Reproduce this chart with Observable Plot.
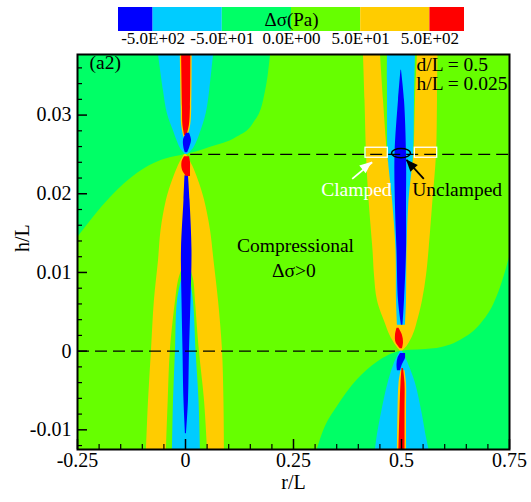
<!DOCTYPE html>
<html><head><meta charset="utf-8">
<script src="https://cdn.jsdelivr.net/npm/d3@7"></script>
<script src="https://cdn.jsdelivr.net/npm/@observablehq/plot@0.6"></script>
<style>
body{margin:0;background:#fff;}
#chart{width:531px;}
#chart svg{display:block;}
#chart text{font-family:"Liberation Serif","Times New Roman","DejaVu Serif",serif !important;}
</style></head><body><div id="chart"></div>
<script>
// ---------- colour levels (legend) ----------
const levelColors = ["#0000ff", "#00ccff", "#00ff66", "#66ff00", "#ffcc00", "#ff0000"];
const levelEdges = [0, 0.5, 1.5, 2.5, 3.5, 4.5, 5];
const levelLabels = ["-5.0E+02", "-5.0E+01", "0.0E+00", "5.0E+01", "5.0E+02"];
const legendTitle = "Δσ(Pa)";
const [BLUE, CYAN, SPRING, LGREEN, ORANGE, RED] = levelColors;

// ---------- axes ----------
const xDomain = [-0.25, 0.75];
const yDomain = [-0.0125, 0.0377];
const xMajor = [-0.25, 0, 0.25, 0.5, 0.75];
const xMajorLabels = ["-0.25", "0", "0.25", "0.5", "0.75"];
const xMinor = [-0.2, -0.15, -0.1, -0.05, 0.05, 0.1, 0.15, 0.2, 0.3, 0.35, 0.4, 0.45, 0.55, 0.6, 0.65, 0.7];
const yMajor = [-0.01, 0, 0.01, 0.02, 0.03];
const yMajorLabels = ["-0.01", "0", "0.01", "0.02", "0.03"];
const yMinor = [-0.012, -0.008, -0.006, -0.004, -0.002, 0.002, 0.004, 0.006, 0.008, 0.012, 0.014, 0.016, 0.018,
                0.022, 0.024, 0.026, 0.028, 0.032, 0.034, 0.036];
const xTitle = "r/L", yTitle = "h/L";

// ---------- contour regions ----------
// boundary between Δσ<0 (upper-left) and Δσ>0 background: [r, h]
const upperLeftBoundary = [[-0.25, 0.0144], [-0.174, 0.0195], [-0.111, 0.0226], [-0.058, 0.0242], [-0.025, 0.0247],
  [0, 0.0250], [0.025, 0.0253], [0.058, 0.0259], [0.12, 0.0272], [0.157, 0.0289], [0.181, 0.0319], [0.192, 0.0353], [0.197, 0.0377]];
const lowerRightBoundary = [[0.305, -0.0125], [0.320, -0.0101], [0.351, -0.0071], [0.397, -0.0037], [0.444, -0.0014],
  [0.5, 0.0], [0.575, 0.0003], [0.637, 0.0014], [0.683, 0.0034], [0.714, 0.0060], [0.737, 0.0094], [0.75, 0.0119]];

// bands: [h, r_left, r_right]
const leftUpperCyan = [[0.0250, 0, 0.005], [0.0258, -0.012, 0.019], [0.0268, -0.020, 0.028], [0.0280, -0.028, 0.036],
  [0.0302, -0.042, 0.048], [0.0331, -0.051, 0.056], [0.0377, -0.0625, 0.065]];
const leftUpperLining = [[0.0272, -0.004, 0.005], [0.0287, -0.009, 0.012], [0.0310, -0.010, 0.0145], [0.0377, -0.012, 0.0155]];
const leftUpperRed = [[0.0274, -0.002, 0.0035], [0.0287, -0.006, 0.009], [0.0310, -0.007, 0.0115], [0.0377, -0.009, 0.0125]];
const leftUpperBlue = [[0.0252, 0, 0.0046], [0.0258, -0.0035, 0.0093], [0.0268, -0.0046, 0.0139], [0.0277, 0.0023, 0.0093]];
const leftLowerRed = [[0.0247, -0.0023, 0.0093], [0.0240, -0.0081, 0.0116], [0.0230, -0.0069, 0.0116], [0.0222, 0.0023, 0.0116]];
const leftLowerOrange = [[0.0250, -0.0023, 0.0023], [0.0236, -0.0162, 0.0162], [0.0217, -0.030, 0.030], [0.0192, -0.044, 0.044],
  [0.0153, -0.0567, 0.058], [0.0115, -0.0625, 0.066], [0.0064, -0.072, 0.0764], [0.0001, -0.0787, 0.0856],
  [-0.0063, -0.0856, 0.089], [-0.0125, -0.0903, 0.0903]];
const leftLowerGreen = [[0.0109, -0.0046, 0.0093], [0.0090, -0.016, 0.019], [0.0064, -0.023, 0.023], [0.0001, -0.035, 0.032],
  [-0.0063, -0.040, 0.044], [-0.0125, -0.044, 0.051]];
const leftLowerCyan = [[0.0100, -0.0046, 0.0093], [0.0064, -0.0185, 0.0185], [0.0001, -0.0231, 0.0243],
  [-0.0063, -0.0278, 0.0313], [-0.0125, -0.0301, 0.0347]];
const leftLowerBlue = [[0.0223, -0.0012, 0.0069], [0.0192, -0.0035, 0.0104], [0.0128, -0.0093, 0.015], [0.0064, -0.0081, 0.0127],
  [0.0001, -0.0058, 0.0093], [-0.0063, -0.0035, 0.0069], [-0.0105, 0.0, 0.0023]];

const rightUpperOrange = [[0.0000, 0.4977, 0.5023], [0.0007, 0.4873, 0.5139], [0.0020, 0.4734, 0.5266], [0.0033, 0.4641, 0.5347],
  [0.0064, 0.4444, 0.5486], [0.0096, 0.4375, 0.5579], [0.0128, 0.434, 0.5637], [0.0192, 0.4248, 0.5729],
  [0.0250, 0.419, 0.581], [0.0319, 0.4155, 0.5833], [0.0377, 0.412, 0.5845]];
const rightUpperGreen = [[0.0240, 0.4700, 0.5270], [0.0250, 0.4676, 0.5290], [0.0319, 0.4583, 0.5324], [0.0377, 0.4514, 0.5370]];
const rightUpperCyan = [[0.0033, 0.4907, 0.5093], [0.0064, 0.4884, 0.5116], [0.0128, 0.4873, 0.5127], [0.0192, 0.4792, 0.5174],
  [0.0250, 0.4688, 0.5278], [0.0319, 0.4676, 0.5301], [0.0377, 0.4676, 0.5324]];
const rightUpperBlue = [[0.0357, 0.4988, 0.5], [0.0319, 0.4931, 0.5069], [0.0250, 0.485, 0.5116], [0.0183, 0.4861, 0.5116],
  [0.0128, 0.4896, 0.5116], [0.0064, 0.4931, 0.5069], [0.0033, 0.5, 0.5035]];
const rightUpperRed = [[0.0029, 0.4896, 0.4942], [0.0020, 0.4861, 0.5023], [0.0011, 0.4873, 0.5046], [0.0003, 0.4977, 0.5023]];
const rightLowerCyan = [[0.0, 0.4977, 0.5023], [-0.0012, 0.4861, 0.5127], [-0.0041, 0.4688, 0.5324], [-0.0075, 0.4549, 0.5463],
  [-0.0110, 0.4433, 0.5579], [-0.0125, 0.4398, 0.5637]];
const rightLowerBlue = [[-0.0003, 0.4977, 0.5093], [-0.0009, 0.4919, 0.5093], [-0.0017, 0.4896, 0.5023], [-0.0025, 0.4907, 0.4977]];
const rightLowerLining = [[-0.0025, 0.4988, 0.5081], [-0.0041, 0.4942, 0.5116], [-0.0075, 0.4919, 0.5116], [-0.0125, 0.4907, 0.5116]];
const rightLowerRed = [[-0.0022, 0.5012, 0.5046], [-0.0041, 0.4988, 0.5081], [-0.0075, 0.4965, 0.5081], [-0.0125, 0.4942, 0.5081]];

// ---------- annotations ----------
const dashH = [0, 0.025];
const dashFrom = [-0.25, 0.012];
const dashTo = [0.497, 0.75];
const clampR1 = [0.4167, 0.5308], clampR2 = [0.4683, 0.5826];
const clampH1 = 0.02458, clampH2 = 0.02585;
const ellipseCenter = [0.5, 0.0251];
const arrowR1 = [0.3859, 0.5516], arrowH1 = [0.0219, 0.0219];
const arrowR2 = [0.4322, 0.5116], arrowH2 = [0.0240, 0.0243];
const arrowColor = ["white", "black"];
const noteText = ["(a2)", "d/L = 0.5", "h/L = 0.025", "Clamped", "Unclamped"];
const noteR = [-0.2222, 0.5347, 0.5347, 0.3141, 0.5248];
const noteH = [0.0359, 0.03554, 0.03313, 0.0197, 0.0197];
const noteColor = ["black", "black", "black", "white", "black"];
const centerText = ["Compressional", "Δσ>0"];
const centerR = [0.2546, 0.2507];
const centerH = [0.01254, 0.0094];

const font = "Liberation Serif, Times New Roman, DejaVu Serif, serif";

function band(rows, fill, curve = "catmull-rom") {
  return Plot.areaX(rows, {y: d => d[0], x1: d => d[1], x2: d => d[2], fill, curve});
}

function decorations(index, scales) {
  const sx = scales.x, sy = scales.y;
  const g = d3.create("svg:g");
  if (!sx || !sy) return g.node();
  g.append("ellipse").attr("cx", sx(ellipseCenter[0])).attr("cy", sy(ellipseCenter[1]))
    .attr("rx", 9.5).attr("ry", 4.6).attr("fill", "none").attr("stroke", "black").attr("stroke-width", 1.5);
  arrowR1.forEach((_, i) => {
    const x1 = sx(arrowR1[i]), y1 = sy(arrowH1[i]), x2 = sx(arrowR2[i]), y2 = sy(arrowH2[i]);
    const a = Math.atan2(y2 - y1, x2 - x1), L = 12, W = 5;
    const bx = x2 - L * Math.cos(a), by = y2 - L * Math.sin(a);
    const px = -Math.sin(a) * W, py = Math.cos(a) * W;
    g.append("path").attr("d", `M${x2},${y2}L${bx + px},${by + py}L${bx - px},${by - py}Z`).attr("fill", arrowColor[i]);
  });
  return g.node();
}

const legend = Plot.plot({
  width: 531, height: 50, marginLeft: 118, marginRight: 67, marginTop: 7, marginBottom: 19,
  x: {domain: [0, 5], axis: null}, y: {domain: [0, 1], axis: null},
  color: {type: "identity"},
  style: {fontFamily: font, background: "white", color: "black"},
  marks: [
    Plot.rect(levelColors, {x1: (d, i) => levelEdges[i], x2: (d, i) => levelEdges[i + 1], y1: 0, y2: 1, fill: d => d}),
    Plot.text(levelLabels, {x: (d, i) => levelEdges[i + 1], text: d => d, frameAnchor: "bottom", dy: 12, fontSize: 17, fontFamily: font, fill: "black"}),
    Plot.text([legendTitle], {x: 2.5, y: 0.5, text: d => d, fontSize: 19, fontFamily: font, fill: "black"})
  ]
});

const main = Plot.plot({
  width: 531, height: 452, marginTop: 4, marginBottom: 53, marginLeft: 77, marginRight: 22,
  x: {domain: xDomain, axis: null},
  y: {domain: yDomain, axis: null},
  color: {type: "identity"},
  style: {fontFamily: font, background: "white", color: "black"},
  marks: [
    Plot.frame({fill: LGREEN, stroke: null}),
    Plot.areaY(upperLeftBoundary, {x: d => d[0], y1: yDomain[1], y2: d => d[1], fill: SPRING, curve: "monotone-x"}),
    Plot.areaY(lowerRightBoundary, {x: d => d[0], y1: yDomain[0], y2: d => d[1], fill: SPRING, curve: "monotone-x"}),
    // left cell
    band(leftUpperCyan, CYAN),
    band(leftUpperLining, ORANGE),
    band(leftUpperRed, RED),
    band(leftUpperBlue, BLUE),
    band(leftLowerOrange, ORANGE),
    band(leftLowerGreen, LGREEN),
    band(leftLowerCyan, CYAN),
    band(leftLowerBlue, BLUE),
    band(leftLowerRed, RED),
    // right cell
    band(rightUpperOrange, ORANGE),
    band(rightUpperGreen, LGREEN),
    band(rightUpperCyan, CYAN),
    band(rightUpperBlue, BLUE),
    band(rightUpperRed, RED),
    band(rightLowerCyan, CYAN),
    band(rightLowerLining, ORANGE),
    band(rightLowerRed, RED),
    band(rightLowerBlue, BLUE),
    // dashed lines
    Plot.ruleY(dashH, {y: d => d, x1: (d, i) => dashFrom[i], x2: (d, i) => dashTo[i], stroke: "black", strokeWidth: 1.2, strokeDasharray: "12,6"}),
    // clamped boxes
    Plot.rect(clampR1, {x1: d => d, x2: (d, i) => clampR2[i], y1: clampH1, y2: clampH2, fill: "none", stroke: "white", strokeWidth: 1.3}),
    // arrow shafts
    Plot.link(arrowR1, {x1: d => d, y1: (d, i) => arrowH1[i], x2: (d, i) => arrowR2[i], y2: (d, i) => arrowH2[i], stroke: (d, i) => arrowColor[i], strokeWidth: 1.8}),
    decorations,
    // annotations
    Plot.text(noteText, {x: (d, i) => noteR[i], y: (d, i) => noteH[i], text: d => d, textAnchor: "start",
      lineAnchor: "bottom", fill: (d, i) => noteColor[i], fontSize: 19.5, fontFamily: font}),
    Plot.text(centerText, {x: (d, i) => centerR[i], y: (d, i) => centerH[i], text: d => d, textAnchor: "middle",
      lineAnchor: "bottom", fill: "black", fontSize: 19.5, fontFamily: font}),
    // ticks (inward)
    Plot.tickX(xMajor, {x: d => d, insetTop: 385, stroke: "black", strokeWidth: 1.5}),
    Plot.tickX(xMinor, {x: d => d, insetTop: 390, stroke: "black", strokeWidth: 1.2}),
    Plot.tickY(yMajor, {y: d => d, insetRight: 422, stroke: "black", strokeWidth: 1.5}),
    Plot.tickY(yMinor, {y: d => d, insetRight: 427, stroke: "black", strokeWidth: 1.2}),
    Plot.frame({stroke: "black", strokeWidth: 2}),
    // tick labels and titles
    Plot.text(xMajor, {x: d => d, text: (d, i) => xMajorLabels[i], frameAnchor: "bottom", dy: 17, fontSize: 20, fontFamily: font, fill: "black"}),
    Plot.text(yMajor, {y: d => d, text: (d, i) => yMajorLabels[i], frameAnchor: "left", dx: -6, textAnchor: "end", fontSize: 20, fontFamily: font, fill: "black"}),
    Plot.text([xTitle], {text: d => d, frameAnchor: "bottom", dy: 39, fontSize: 20, fontFamily: font, fill: "black"}),
    Plot.text([yTitle], {text: d => d, frameAnchor: "left", dx: -55, rotate: -90, fontSize: 20, fontFamily: font, fill: "black"})
  ]
});

const chart = document.getElementById("chart");
chart.appendChild(legend);
chart.appendChild(main);
</script>
</body></html>
